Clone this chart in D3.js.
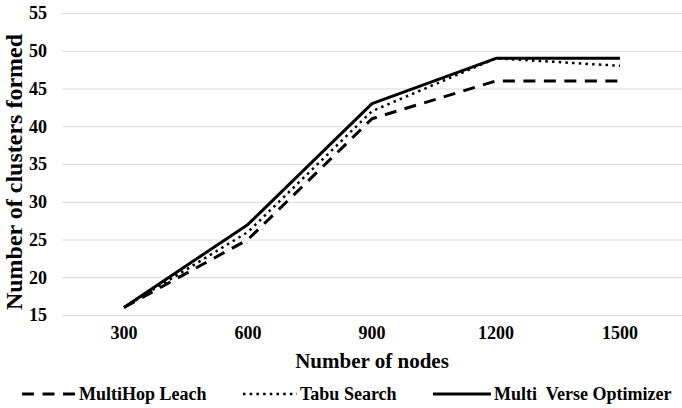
<!DOCTYPE html>
<html>
<head>
<meta charset="utf-8">
<script src="https://cdn.jsdelivr.net/npm/d3@7"></script>
<style>
  html, body { margin: 0; padding: 0; background: #fff; }
</style>
</head>
<body>
<svg id="chart" width="682" height="408"></svg>
<script>
// categories along the x axis
var nodes = ["300", "600", "900", "1200", "1500"];

// clusters formed, one list per method
var multiHopLeach = [16, 25, 41, 46, 46];
var tabuSearch = [16, 26, 42, 49, 48];
var multiVerse = [16, 27, 43, 49, 49];

var yTicks = [15, 20, 25, 30, 35, 40, 45, 50, 55];

var series = [
  { name: "MultiHop Leach", values: multiHopLeach, width: 3, dash: "12,8.5" },
  { name: "Tabu Search", values: tabuSearch, width: 2.5, dash: "2.5,4.2" },
  { name: "Multi  Verse Optimizer", values: multiVerse, width: 3, dash: null }
];

var FONT = "'Liberation Serif', 'Times New Roman', serif";

var svg = d3.select("#chart")
  .attr("font-family", FONT)
  .attr("font-weight", "bold");
var plot = { left: 62, right: 682, top: 13, bottom: 315 };

var x = d3.scaleBand().domain(nodes).range([plot.left, plot.right]);
var y = d3.scaleLinear().domain([15, 55]).range([plot.bottom, plot.top]);

// d3.axis puts sans-serif on its group, swap it back
function serif(g) {
  g.attr("font-family", FONT).attr("font-size", 18);
  g.select(".domain").remove();
}

// gridlines + y labels
svg.append("g")
  .attr("transform", "translate(" + plot.left + ",0)")
  .call(d3.axisLeft(y).tickValues(yTicks).tickSize(-(plot.right - plot.left)).tickPadding(15))
  .call(serif)
  .call(function(g) {
    g.selectAll(".tick line").attr("stroke", "#d9d9d9").attr("stroke-width", 1);
  });

// category labels
svg.append("g")
  .attr("transform", "translate(0," + plot.bottom + ")")
  .call(d3.axisBottom(x).tickSize(0).tickPadding(11))
  .call(serif);

var line = d3.line()
  .x(function(d, i) { return x(nodes[i]) + x.bandwidth() / 2; })
  .y(function(d) { return y(d); });

svg.selectAll("path.series")
  .data(series)
  .enter().append("path")
  .attr("class", "series")
  .attr("fill", "none")
  .attr("stroke", "#000")
  .attr("stroke-width", function(s) { return s.width; })
  .attr("stroke-dasharray", function(s) { return s.dash; })
  .attr("stroke-linejoin", "round")
  .attr("d", function(s) { return line(s.values); });

// axis titles
svg.append("text")
  .attr("x", (plot.left + plot.right) / 2)
  .attr("y", 368)
  .attr("text-anchor", "middle")
  .attr("font-size", 21)
  .text("Number of nodes");

svg.append("text")
  .attr("transform", "translate(22,172) rotate(-90)")
  .attr("text-anchor", "middle")
  .attr("font-size", 24)
  .text("Number of clusters formed");

// legend
var legendX = [22, 243, 433];
var item = svg.selectAll("g.legend")
  .data(series)
  .enter().append("g")
  .attr("class", "legend")
  .attr("transform", function(s, i) { return "translate(" + legendX[i] + ",394)"; });

item.append("line")
  .attr("x1", 0).attr("x2", function(s, i) { return i === 2 ? 58 : 54; })
  .attr("stroke", "#000")
  .attr("stroke-width", function(s) { return s.width; })
  .attr("stroke-dasharray", function(s) { return s.dash; });

item.append("text")
  .attr("x", function(s, i) { return i === 2 ? 61 : 57; })
  .attr("y", 6)
  .attr("font-size", 18)
  .style("white-space", "pre")
  .text(function(s) { return s.name; });
</script>
</body>
</html>
